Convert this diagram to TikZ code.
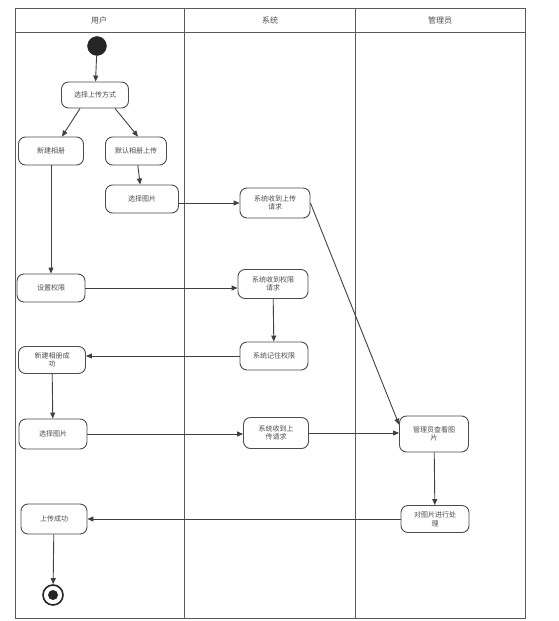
\documentclass[tikz,border=0pt]{standalone}
\usepackage{fontspec}
\newfontfamily\cjk{Noto Sans CJK SC}
\usetikzlibrary{arrows.meta}
\begin{document}
\begin{tikzpicture}[x=1pt,y=-1pt,
  act/.style={draw=black!70, line width=0.9pt, rounded corners=7pt, fill=white,
    minimum width=67pt, minimum height=28pt, inner sep=1pt,
    font=\cjk\fontsize{7}{8.5}\selectfont, text=black!70, align=center},
  flow/.style={draw=black!75, line width=0.9pt, -{Triangle[length=6pt,width=5pt]}},
  lane/.style={draw=black!65, line width=1pt},
  head/.style={font=\cjk\fontsize{8}{9}\selectfont, text=black!70}]
\useasboundingbox (0,0) rectangle (559,621);
% swimlanes
\draw[lane] (15,8) rectangle (525,618);
\draw[lane] (15,32) -- (525,32);
\draw[lane] (184,8) -- (184,618);
\draw[lane] (355,8) -- (355,618);
\node[head] (h1) at (99,20) {用户};
\node[head] (h2) at (270,20) {系统};
\node[head] (h3) at (440,20) {管理员};
% start / end
\node[circle, fill=black!85, draw=black!85, minimum size=19pt, inner sep=0pt] (start) at (97,46) {};
\node[circle, draw=black!85, line width=1.6pt, minimum size=20pt, inner sep=0pt] (stop) at (53,595) {};
\node[circle, fill=black!85, minimum size=10pt, inner sep=0pt] (stopin) at (53,595) {};
% activities
\node[act, minimum width=67pt, minimum height=26pt] (choose) at (95,95) {选择上传方式};
\node[act, minimum width=65pt] (newalb) at (51,151) {新建相册};
\node[act, minimum width=61pt] (defalb) at (136,151) {默认相册上传};
\node[act, minimum width=73pt] (pick1) at (142,199) {选择图片};
\node[act, minimum width=70pt, minimum height=30pt] (recv1) at (275,203) {系统收到上传\\请求};
\node[act, minimum width=68pt] (setperm) at (51,288) {设置权限};
\node[act, minimum width=70pt, minimum height=29pt] (recvp) at (273,284) {系统收到权限\\请求};
\node[act, minimum width=68pt] (remp) at (274,356) {系统记住权限};
\node[act, minimum width=67pt, minimum height=27pt] (newok) at (52,360) {新建相册成\\功};
\node[act, minimum width=68pt, minimum height=30pt] (pick2) at (53,434) {选择图片};
\node[act, minimum width=65pt, minimum height=31pt] (recv2) at (276,433) {系统收到上\\传请求};
\node[act, minimum width=69pt, minimum height=36pt] (admin) at (434,434) {管理员查看图\\片};
\node[act, minimum width=68pt, minimum height=27pt] (proc) at (435,519) {对图片进行处\\理};
\node[act, minimum width=66pt, minimum height=30pt] (done) at (54,519) {上传成功};
% flows
\draw[flow] (start) -- (choose);
\draw[flow] ([xshift=-15pt]choose.south) -- ([xshift=11pt]newalb.north);
\draw[flow] ([xshift=20pt]choose.south) -- ([xshift=2pt]defalb.north);
\draw[flow] (defalb) -- (pick1);
\draw[flow] (newalb) -- (setperm);
\draw[flow] (recv1.west -| pick1.east) -- (recv1.west);
\draw[flow] (recv1.east) -- (admin.165);
\draw[flow] (setperm.east) -- (setperm.east -| recvp.west);
\draw[flow] (recvp) -- (remp);
\draw[flow] (remp.west) -- (remp.west -| newok.east);
\draw[flow] (newok) -- (pick2);
\draw[flow] (pick2.east) -- (pick2.east -| recv2.west);
\draw[flow] (recv2.east) -- (recv2.east -| admin.west);
\draw[flow] (admin) -- (proc);
\draw[flow] (proc.west) -- (proc.west -| done.east);
\draw[flow] (done) -- (stop);
\end{tikzpicture}
\end{document}
